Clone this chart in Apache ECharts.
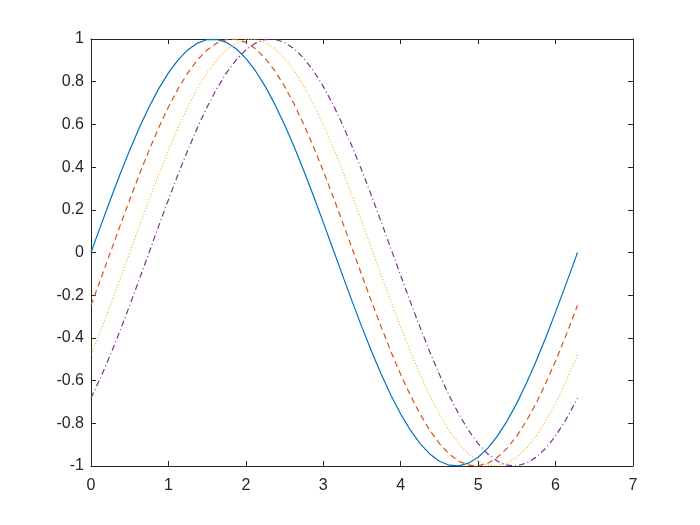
<!DOCTYPE html>
<html>
<head>
<meta charset="utf-8">
<script src="https://cdn.jsdelivr.net/npm/echarts@6/dist/echarts.min.js"></script>
<style>html,body{margin:0;padding:0;background:#fff;}#c{width:700px;height:525px;}</style>
</head>
<body>
<div id="c"></div>
<script>
var xs = [0,0.125,0.25,0.375,0.5,0.625,0.75,0.875,1,1.125,1.25,1.375,1.5,1.625,1.75,1.875,2,2.125,2.25,2.375,2.5,2.625,2.75,2.875,3,3.125,3.25,3.375,3.5,3.625,3.75,3.875,4,4.125,4.25,4.375,4.5,4.625,4.75,4.875,5,5.125,5.25,5.375,5.5,5.625,5.75,5.875,6,6.125,6.25,6.2832];
var blue = [0,0.1247,0.2474,0.3663,0.4794,0.5851,0.6816,0.7675,0.8415,0.9023,0.9490,0.9809,0.9975,0.9985,0.9840,0.9541,0.9093,0.8503,0.7781,0.6937,0.5985,0.4939,0.3817,0.2635,0.1411,0.0166,-0.1082,-0.2313,-0.3508,-0.4648,-0.5716,-0.6694,-0.7568,-0.8324,-0.8950,-0.9436,-0.9775,-0.9962,-0.9993,-0.9868,-0.9589,-0.9161,-0.8589,-0.7884,-0.7055,-0.6117,-0.5083,-0.3969,-0.2794,-0.1575,-0.0332,0];
var red = [-0.2474,-0.1247,0,0.1247,0.2474,0.3663,0.4794,0.5851,0.6816,0.7675,0.8415,0.9023,0.9490,0.9809,0.9975,0.9985,0.9840,0.9541,0.9093,0.8503,0.7781,0.6937,0.5985,0.4939,0.3817,0.2635,0.1411,0.0166,-0.1082,-0.2313,-0.3508,-0.4648,-0.5716,-0.6694,-0.7568,-0.8324,-0.8950,-0.9436,-0.9775,-0.9962,-0.9993,-0.9868,-0.9589,-0.9161,-0.8589,-0.7884,-0.7055,-0.6117,-0.5083,-0.3969,-0.2794,-0.2474];
var yellow = [-0.4794,-0.3663,-0.2474,-0.1247,0,0.1247,0.2474,0.3663,0.4794,0.5851,0.6816,0.7675,0.8415,0.9023,0.9490,0.9809,0.9975,0.9985,0.9840,0.9541,0.9093,0.8503,0.7781,0.6937,0.5985,0.4939,0.3817,0.2635,0.1411,0.0166,-0.1082,-0.2313,-0.3508,-0.4648,-0.5716,-0.6694,-0.7568,-0.8324,-0.8950,-0.9436,-0.9775,-0.9962,-0.9993,-0.9868,-0.9589,-0.9161,-0.8589,-0.7884,-0.7055,-0.6117,-0.5083,-0.4794];
var purple = [-0.6816,-0.5851,-0.4794,-0.3663,-0.2474,-0.1247,0,0.1247,0.2474,0.3663,0.4794,0.5851,0.6816,0.7675,0.8415,0.9023,0.9490,0.9809,0.9975,0.9985,0.9840,0.9541,0.9093,0.8503,0.7781,0.6937,0.5985,0.4939,0.3817,0.2635,0.1411,0.0166,-0.1082,-0.2313,-0.3508,-0.4648,-0.5716,-0.6694,-0.7568,-0.8324,-0.8950,-0.9436,-0.9775,-0.9962,-0.9993,-0.9868,-0.9589,-0.9161,-0.8589,-0.7884,-0.7055,-0.6816];

function pairs(ys){ return xs.map(function(x,i){ return [x, ys[i]]; }); }

var axisCol = '#262626';
var font = {fontFamily:'Liberation Sans, Arial, Helvetica, sans-serif', fontSize:16, color:axisCol};

function mkSeries(ys, color, type){
  return {type:'line', data:pairs(ys), showSymbol:false, smooth:false,
    lineStyle:{color:color, width:1.2, type:type}, itemStyle:{color:color}, animation:false, silent:true};
}

var chart = echarts.init(document.getElementById('c'));
chart.setOption({
  backgroundColor:'#fff',
  animation:false,
  grid:{left:91, right:67, top:39, bottom:59, containLabel:false},
  xAxis:[
    {type:'value', min:0, max:7, interval:1, position:'bottom',
     axisLine:{show:true, onZero:false, lineStyle:{color:axisCol, width:1}},
     axisTick:{show:true, inside:true, length:5, lineStyle:{color:axisCol}},
     axisLabel:Object.assign({margin:12}, font),
     splitLine:{show:false}},
    {type:'value', min:0, max:7, interval:1, position:'top',
     axisLine:{show:true, onZero:false, lineStyle:{color:axisCol, width:1}},
     axisTick:{show:true, inside:true, length:5, lineStyle:{color:axisCol}},
     axisLabel:{show:false}, splitLine:{show:false}}
  ],
  yAxis:[
    {type:'value', min:-1, max:1, interval:0.2, position:'left',
     axisLine:{show:true, onZero:false, lineStyle:{color:axisCol, width:1}},
     axisTick:{show:true, inside:true, length:5, lineStyle:{color:axisCol}},
     axisLabel:Object.assign({margin:7, formatter:function(v){ return String(Math.round(v*10)/10); }}, font),
     splitLine:{show:false}},
    {type:'value', min:-1, max:1, interval:0.2, position:'right',
     axisLine:{show:true, onZero:false, lineStyle:{color:axisCol, width:1}},
     axisTick:{show:true, inside:true, length:5, lineStyle:{color:axisCol}},
     axisLabel:{show:false}, splitLine:{show:false}}
  ],
  series:[
    mkSeries(blue, '#0072BD', 'solid'),
    mkSeries(red, '#D95319', [6,4]),
    mkSeries(yellow, '#EDB120', [1,2]),
    mkSeries(purple, '#7E2F8E', [6,3,1,3])
  ]
});
</script>
</body>
</html>
